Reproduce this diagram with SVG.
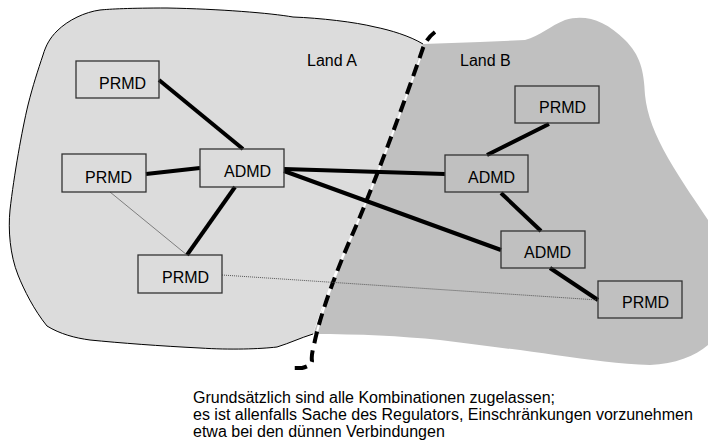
<svg xmlns="http://www.w3.org/2000/svg" width="708" height="446" viewBox="0 0 708 446">
  <style>
    .lbl { font-family: "Liberation Sans", Arial, sans-serif; font-size: 16px; fill: #000; }
    .box { fill: none; stroke: #333; stroke-width: 1.3; }
    .thick { stroke: #000; stroke-width: 4; fill: none; }
    .thin { stroke: #666; stroke-width: 0.8; fill: none; }
    .dotted { stroke: #555; stroke-width: 1; stroke-dasharray: 1 1; fill: none; }
  </style>
  <rect width="708" height="446" fill="#fff"/>

  <!-- country B (darker) -->
  <path id="landB-area" d="M423,44 L480,42 L525,40 C540,36 550,26 565,20 C585,14 605,20 625,40 C640,55 644,70 645,95 C647,115 655,135 668,158 C682,182 698,205 708,220 L708,345 C695,356 675,364 650,365 C620,364 590,360 555,355 C520,350 480,345 440,340 C400,336 360,334 313,334 Z" fill="#c0c0c0"/>

  <!-- country A (lighter, outlined) -->
  <path id="landA-area" d="M423,44 C410,36 390,30 375,27 C355,22 320,18 293,17 C270,13 220,9 167,8 C130,8 110,9 100,10 C85,12 68,20 57,31 C50,38 46,45 43,55 C38,70 33,85 28,105 C22,130 14,175 10,210 C8,230 10,255 18,275 C24,290 34,310 47,326 C60,334 75,338 90,340 C120,343 160,346 200,348 C230,350 260,349 277,347 C290,343 300,338 313,334 C330,283 345,245 350,240 C370,195 400,115 423,44 Z" fill="#dcdcdc"/>
  <path d="M423,44 C410,36 390,30 375,27 C355,22 320,18 293,17 C270,13 220,9 167,8 C130,8 110,9 100,10 C85,12 68,20 57,31 C50,38 46,45 43,55 C38,70 33,85 28,105 C22,130 14,175 10,210 C8,230 10,255 18,275 C24,290 34,310 47,326 C60,334 75,338 90,340 C120,343 160,346 200,348 C230,350 260,349 277,347 C290,343 300,338 313,334" fill="none" stroke="#000" stroke-width="1"/>

  <!-- border between the countries -->
  <g id="border">
    <path d="M423,50 C400,115 370,195 350,240 C335,275 320,315 314,345" fill="none" stroke="#fff" stroke-width="2"/>
    <path d="M435,32 Q427,38 423,48 C400,115 370,195 350,240 C335,275 320,315 314,345 Q311,356 312,361 Q311,366 302,368 L290,368" fill="none" stroke="#000" stroke-width="4" stroke-dasharray="12 7"/>
  </g>

  <text class="lbl" x="307" y="66">Land A</text>
  <text class="lbl" x="460" y="66">Land B</text>

  <!-- connectors -->
  <g id="connectors">
    <line class="thick" x1="159" y1="80" x2="243" y2="149"/>
    <line class="thick" x1="146" y1="174" x2="200" y2="168"/>
    <line class="thick" x1="235" y1="187" x2="187" y2="255"/>
    <line class="thick" x1="284" y1="169" x2="445" y2="174"/>
    <line class="thick" x1="284" y1="171" x2="501" y2="250"/>
    <line class="thick" x1="549" y1="124" x2="487" y2="155"/>
    <line class="thick" x1="501" y1="193" x2="541" y2="231"/>
    <line class="thick" x1="550" y1="268" x2="598" y2="300"/>
    <line class="thin" x1="110" y1="192" x2="187" y2="255"/>
    <line class="dotted" x1="222" y1="275" x2="598" y2="300"/>
  </g>

  <!-- nodes -->
  <g id="prmd-a1"><rect class="box" x="76" y="61" width="83" height="37"/><text class="lbl" x="99" y="89">PRMD</text></g>
  <g id="prmd-a2"><rect class="box" x="62" y="154" width="84" height="38"/><text class="lbl" x="85" y="183">PRMD</text></g>
  <g id="admd-a"><rect class="box" x="200" y="149" width="84" height="38"/><text class="lbl" x="224" y="177">ADMD</text></g>
  <g id="prmd-a3"><rect class="box" x="138" y="255" width="84" height="38"/><text class="lbl" x="162" y="283">PRMD</text></g>
  <g id="prmd-b1"><rect class="box" x="515" y="86" width="84" height="37"/><text class="lbl" x="539" y="113">PRMD</text></g>
  <g id="admd-b1"><rect class="box" x="445" y="155" width="83" height="37"/><text class="lbl" x="468" y="183">ADMD</text></g>
  <g id="admd-b2"><rect class="box" x="501" y="231" width="84" height="37"/><text class="lbl" x="524" y="258">ADMD</text></g>
  <g id="prmd-b2"><rect class="box" x="598" y="281" width="84" height="37"/><text class="lbl" x="622" y="308">PRMD</text></g>

  <!-- note -->
  <g id="note">
    <text class="lbl" x="193" y="403">Grundsätzlich sind alle Kombinationen zugelassen;</text>
    <text class="lbl" x="193" y="420">es ist allenfalls Sache des Regulators, Einschränkungen vorzunehmen</text>
    <text class="lbl" x="193" y="437">etwa bei den dünnen Verbindungen</text>
  </g>
</svg>
